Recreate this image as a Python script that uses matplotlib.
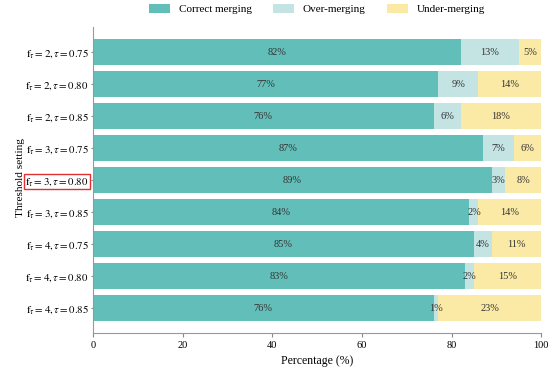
import matplotlib
matplotlib.use("Agg")
import matplotlib.pyplot as plt
import numpy as np

plt.rcParams['font.family'] = ['Liberation Serif', 'DejaVu Serif']
plt.rcParams['mathtext.fontset'] = 'stix'

ft_vals = [2, 2, 2, 3, 3, 3, 4, 4, 4]
tau_vals = ["0.75", "0.80", "0.85", "0.75", "0.80", "0.85", "0.75", "0.80", "0.85"]
correct = [82, 77, 76, 87, 89, 84, 85, 83, 76]
over = [13, 9, 6, 7, 3, 2, 4, 2, 1]
under = [5, 14, 18, 6, 8, 14, 11, 15, 23]
series_names = ["Correct merging", "Over-merging", "Under-merging"]
colors = ["#62beb8", "#c3e4e3", "#fbeaa6"]
highlight = 4

labels = [r"$\mathrm{f}_{\tau}=%d,\tau=%s$" % (f, t) for f, t in zip(ft_vals, tau_vals)]

fig = plt.figure(figsize=(5.5, 3.71), dpi=100)
ax = fig.add_axes([0.169, 0.102, 0.815, 0.825])

y = np.arange(len(labels))
left = np.zeros(len(labels))
for vals, name, c in zip([correct, over, under], series_names, colors):
    bars = ax.barh(y, vals, left=left, height=0.8, color=c, label=name)
    for b, v in zip(bars, vals):
        ax.text(b.get_x() + b.get_width() / 2, b.get_y() + b.get_height() / 2,
                f"{v}%", ha='center', va='center', fontsize=7.5, color='#333333')
    left += np.array(vals)

ax.set_xlim(0, 100)
ax.set_ylim(len(labels) - 1 + 0.78, -0.78)
ax.set_yticks(y)
ax.set_yticklabels(labels, fontsize=7.8)
ax.set_xticks([0, 20, 40, 60, 80, 100])
ax.tick_params(axis='x', labelsize=7.5, color='#888888', length=3, pad=3)
ax.tick_params(axis='y', labelsize=7.8, color='#888888', length=1.5, pad=1.5)
ax.set_xlabel("Percentage (%)", fontsize=8.5, labelpad=3)
ax.set_ylabel("Threshold setting", fontsize=8.2)
ax.yaxis.set_label_coords(-0.152, 0.51)
for s in ['top', 'right']:
    ax.spines[s].set_visible(False)
for s in ['left', 'bottom']:
    ax.spines[s].set_color('#999999')

tl = ax.get_yticklabels()[highlight]
tl.set_bbox(dict(boxstyle='square,pad=0.15', fc='none', ec='#e03030', lw=1))

ax.legend(loc='lower center', bbox_to_anchor=(0.5, 1.02), ncol=3, frameon=False,
          fontsize=8, handlelength=1.9, handleheight=0.8, handletextpad=0.8,
          columnspacing=1.9, borderaxespad=0.2)

fig.savefig("out.png", dpi=100)
